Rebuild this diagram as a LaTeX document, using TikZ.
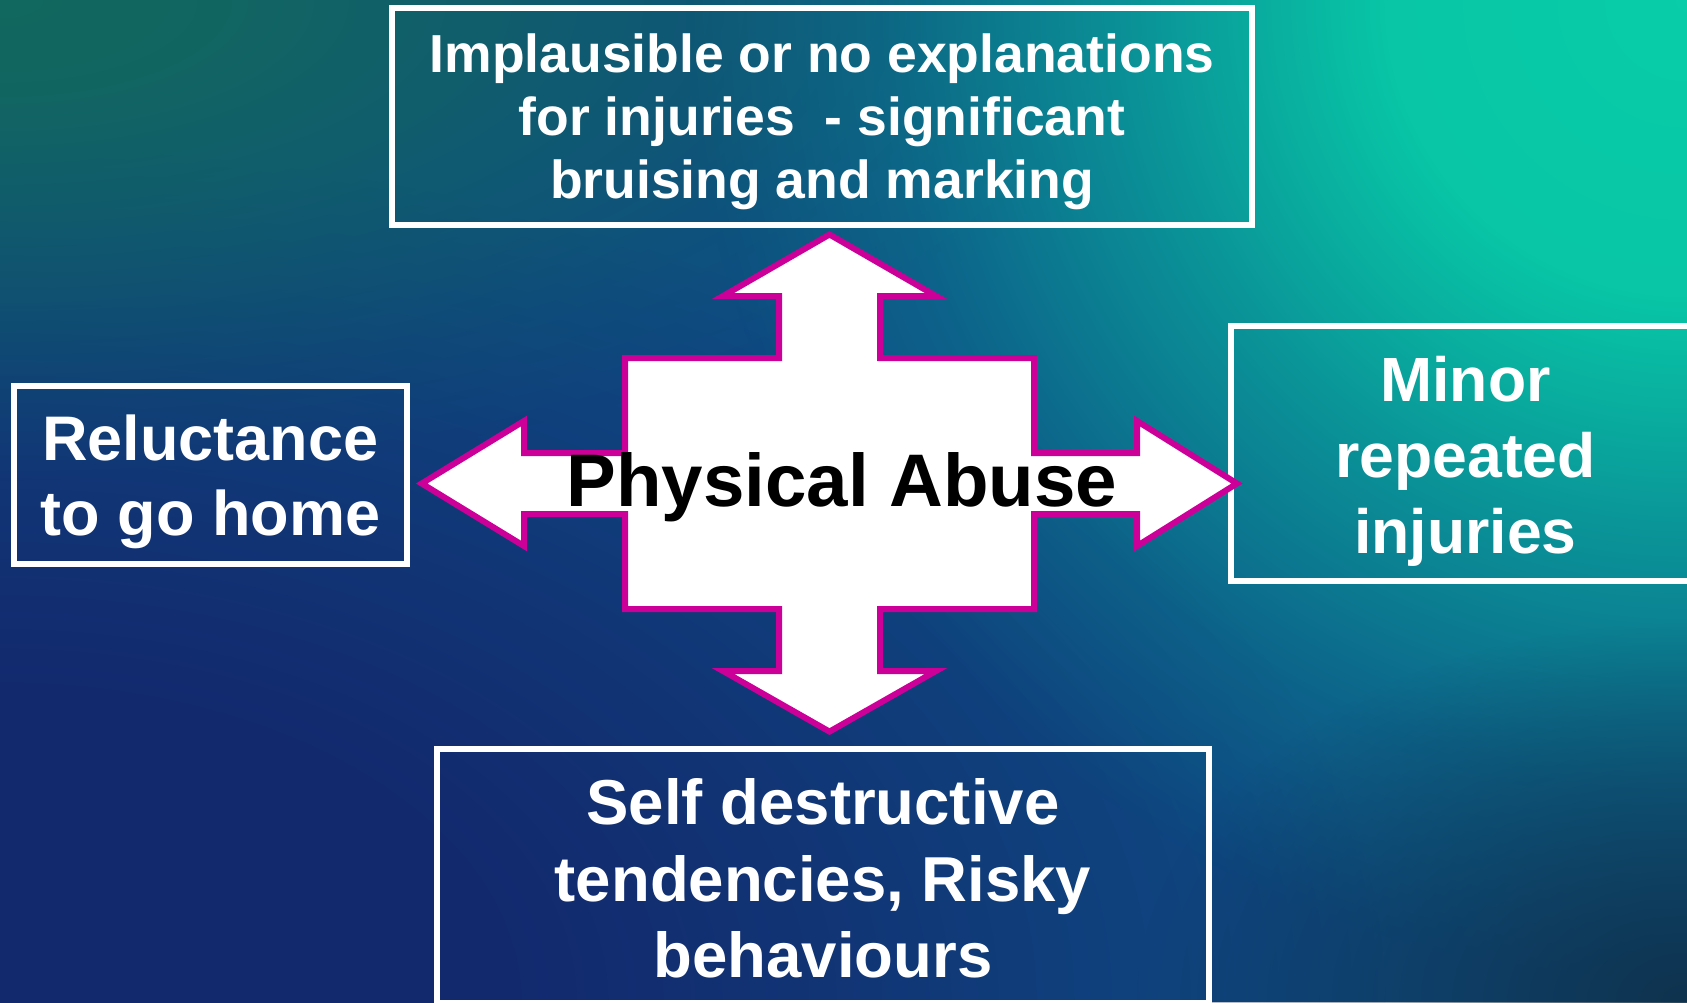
\documentclass[tikz,border=0pt]{standalone}
\usepackage{fontspec}
\setmainfont{Liberation Sans}
\usetikzlibrary{fadings}

\definecolor{bgbase}{HTML}{0E4C84}
\definecolor{bgnavy}{HTML}{13296E}
\definecolor{bgteal}{HTML}{08CDA8}
\definecolor{bggreen}{HTML}{126A5C}
\definecolor{bgdark}{HTML}{0F3048}
\definecolor{abmag}{HTML}{CC0099}

\pgfdeclareradialshading{shtealfade}{\pgfpointorigin}{rgb(0bp)=(1,1,1); rgb(7.5bp)=(0.95,0.95,0.95); rgb(13.75bp)=(0.55,0.55,0.55); rgb(20bp)=(0.18,0.18,0.18); rgb(25bp)=(0,0,0); rgb(50bp)=(0,0,0)}
\pgfdeclarefading{tealfade}{\pgfuseshading{shtealfade}}
\pgfdeclareradialshading{shnavyfade}{\pgfpointorigin}{rgb(0bp)=(1,1,1); rgb(8.75bp)=(1,1,1); rgb(15bp)=(0.65,0.65,0.65); rgb(20bp)=(0.3,0.3,0.3); rgb(25bp)=(0,0,0); rgb(50bp)=(0,0,0)}
\pgfdeclarefading{navyfade}{\pgfuseshading{shnavyfade}}
\pgfdeclareradialshading{shgreenfade}{\pgfpointorigin}{rgb(0bp)=(0.95,0.95,0.95); rgb(5bp)=(0.85,0.85,0.85); rgb(12.5bp)=(0.5,0.5,0.5); rgb(20bp)=(0.15,0.15,0.15); rgb(25bp)=(0,0,0); rgb(50bp)=(0,0,0)}
\pgfdeclarefading{greenfade}{\pgfuseshading{shgreenfade}}
\pgfdeclareradialshading{shdarkfade}{\pgfpointorigin}{rgb(0bp)=(0.9,0.9,0.9); rgb(25bp)=(0,0,0); rgb(50bp)=(0,0,0)}
\pgfdeclarefading{darkfade}{\pgfuseshading{shdarkfade}}

\tikzset{
  frame/.style={draw=white, line width=6pt},
  quad/.style={draw=abmag, fill=white, line width=6pt, line join=miter},
  lbl/.style={text=white, align=center, inner sep=0pt, font=\bfseries\fontsize{63}{75}\selectfont},
  centerlbl/.style={text=black, inner sep=0pt, anchor=base, font=\bfseries\fontsize{74.5}{89}\selectfont}
}

\begin{document}
\begin{tikzpicture}[x=1pt,y=-1pt]
\useasboundingbox (0,0) rectangle (1687,1002);
% background
\begin{scope}
  \clip (0,0) rectangle (1687,1002);
  \fill[bgbase] (0,0) rectangle (1687,1002);
  \fill[bgnavy, path fading=navyfade] (0,1002) ellipse [x radius=1400, y radius=860];
  \fill[bggreen, path fading=greenfade] (0,0) ellipse [x radius=1150, y radius=480];
  \fill[bgteal, path fading=tealfade] (1687,0) ellipse [x radius=1000, y radius=980];
  \fill[bgdark, path fading=darkfade] (1687,1002) ellipse [x radius=550, y radius=380];
\end{scope}

% frames
\draw[frame] (392,7.7) rectangle (1252,225);
\draw[frame] (14,385.5) rectangle (407,564);
\draw[frame] (1230.5,325.5) rectangle (1700,581);
\draw[frame] (437,749) rectangle (1209,1003);

% quad arrow
\draw[quad] (829.5,234.5) -- (936,296) -- (880,296) -- (880,358) -- (1034,358)
  -- (1034,453) -- (1137,453) -- (1137,421) -- (1237,483.5) -- (1137,546)
  -- (1137,514) -- (1034,514) -- (1034,609) -- (880,609) -- (880,671)
  -- (936,671) -- (829.5,731.6) -- (723,671) -- (779,671) -- (779,609)
  -- (625,609) -- (625,514) -- (524,514) -- (524,546) -- (421.7,483.5)
  -- (524,421) -- (524,453) -- (625,453) -- (625,358) -- (779,358)
  -- (779,296) -- (723,296) -- cycle;

% texts
\node[lbl, font=\bfseries\fontsize{53.5}{63}\selectfont] (topl) at (822,122.2)
  {Implausible or no explanations\\for injuries\ \ - significant\\bruising and marking};
\node[lbl] (leftl) at (210.5,481.5) {Reluctance\\to go home};
\node[lbl, font=\bfseries\fontsize{62.5}{76}\selectfont] (rightl) at (1465.5,460.9) {Minor\\repeated\\injuries};
\node[lbl, font=\bfseries\fontsize{63.5}{76.5}\selectfont] (bottoml) at (823,878.3)
  {Self destructive\\tendencies, Risky\\behaviours};
\node[centerlbl] (centerl) at (842,506) {Physical Abuse};
\end{tikzpicture}
\end{document}
